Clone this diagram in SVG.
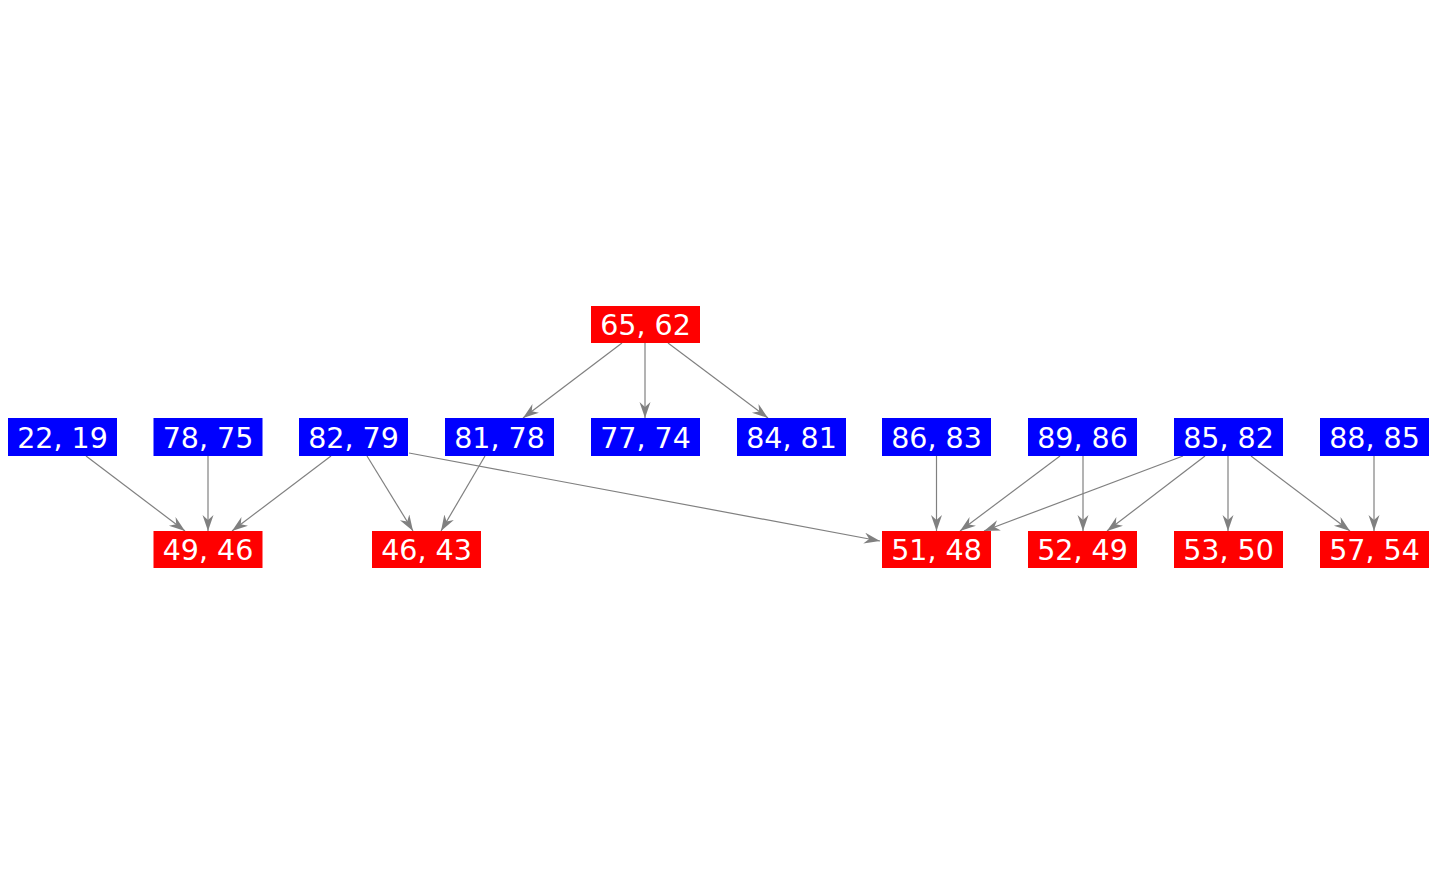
<svg xmlns="http://www.w3.org/2000/svg" width="1437" height="875" viewBox="0 0 1437 875">
<style>
.b{fill:#0000ff}
.r{fill:#ff0000}
.t{font-family:"DejaVu Sans",sans-serif;font-size:28.5px;fill:#ffffff;text-anchor:middle}
.e{stroke:#808080;stroke-width:1.2;fill:none;marker-end:url(#a)}
</style>
<defs>
<marker id="a" markerUnits="userSpaceOnUse" markerWidth="18" markerHeight="12" refX="16" refY="5.5" orient="auto">
<path d="M0,0 L16,5.5 L0,11 L5,5.5 z" fill="#808080"/>
</marker>
</defs>
<rect width="1437" height="875" fill="#ffffff"/>
<g id="edges">
<line class="e" x1="86" y1="456" x2="185" y2="531"/>
<line class="e" x1="208" y1="456" x2="208" y2="531"/>
<line class="e" x1="331" y1="456" x2="232" y2="531"/>
<line class="e" x1="367" y1="456" x2="413" y2="531"/>
<line class="e" x1="485" y1="456" x2="441" y2="531"/>
<line class="e" x1="409" y1="453" x2="880" y2="541"/>
<line class="e" x1="622" y1="343" x2="523" y2="418"/>
<line class="e" x1="645" y1="343" x2="645" y2="418"/>
<line class="e" x1="668" y1="343" x2="768" y2="418"/>
<line class="e" x1="936.5" y1="456" x2="936.5" y2="531"/>
<line class="e" x1="1060" y1="456" x2="960" y2="531"/>
<line class="e" x1="1083" y1="456" x2="1083" y2="531"/>
<line class="e" x1="1183" y1="456" x2="984" y2="531"/>
<line class="e" x1="1205" y1="456" x2="1107" y2="531"/>
<line class="e" x1="1228" y1="456" x2="1228" y2="531"/>
<line class="e" x1="1251" y1="456" x2="1350" y2="531"/>
<line class="e" x1="1374" y1="456" x2="1374" y2="531"/>
</g>
<g id="n6562"><rect class="r" x="591" y="306" width="109" height="37"/><text class="t" x="645.5" y="334.5">65, 62</text></g>
<g id="n2219"><rect class="b" x="8" y="418" width="109" height="38"/><text class="t" x="62.5" y="447.5">22, 19</text></g>
<g id="n7875"><rect class="b" x="153.5" y="418" width="109" height="38"/><text class="t" x="208" y="447.5">78, 75</text></g>
<g id="n8279"><rect class="b" x="299" y="418" width="109" height="38"/><text class="t" x="353.5" y="447.5">82, 79</text></g>
<g id="n8178"><rect class="b" x="445" y="418" width="109" height="38"/><text class="t" x="499.5" y="447.5">81, 78</text></g>
<g id="n7774"><rect class="b" x="591" y="418" width="109" height="38"/><text class="t" x="645.5" y="447.5">77, 74</text></g>
<g id="n8481"><rect class="b" x="737" y="418" width="109" height="38"/><text class="t" x="791.5" y="447.5">84, 81</text></g>
<g id="n8683"><rect class="b" x="882" y="418" width="109" height="38"/><text class="t" x="936.5" y="447.5">86, 83</text></g>
<g id="n8986"><rect class="b" x="1028" y="418" width="109" height="38"/><text class="t" x="1082.5" y="447.5">89, 86</text></g>
<g id="n8582"><rect class="b" x="1174" y="418" width="109" height="38"/><text class="t" x="1228.5" y="447.5">85, 82</text></g>
<g id="n8885"><rect class="b" x="1320" y="418" width="109" height="38"/><text class="t" x="1374.5" y="447.5">88, 85</text></g>
<g id="n4946"><rect class="r" x="153.5" y="531" width="109" height="37"/><text class="t" x="208" y="559.5">49, 46</text></g>
<g id="n4643"><rect class="r" x="372" y="531" width="109" height="37"/><text class="t" x="426.5" y="559.5">46, 43</text></g>
<g id="n5148"><rect class="r" x="882" y="531" width="109" height="37"/><text class="t" x="936.5" y="559.5">51, 48</text></g>
<g id="n5249"><rect class="r" x="1028" y="531" width="109" height="37"/><text class="t" x="1082.5" y="559.5">52, 49</text></g>
<g id="n5350"><rect class="r" x="1174" y="531" width="109" height="37"/><text class="t" x="1228.5" y="559.5">53, 50</text></g>
<g id="n5754"><rect class="r" x="1320" y="531" width="109" height="37"/><text class="t" x="1374.5" y="559.5">57, 54</text></g>
</svg>
